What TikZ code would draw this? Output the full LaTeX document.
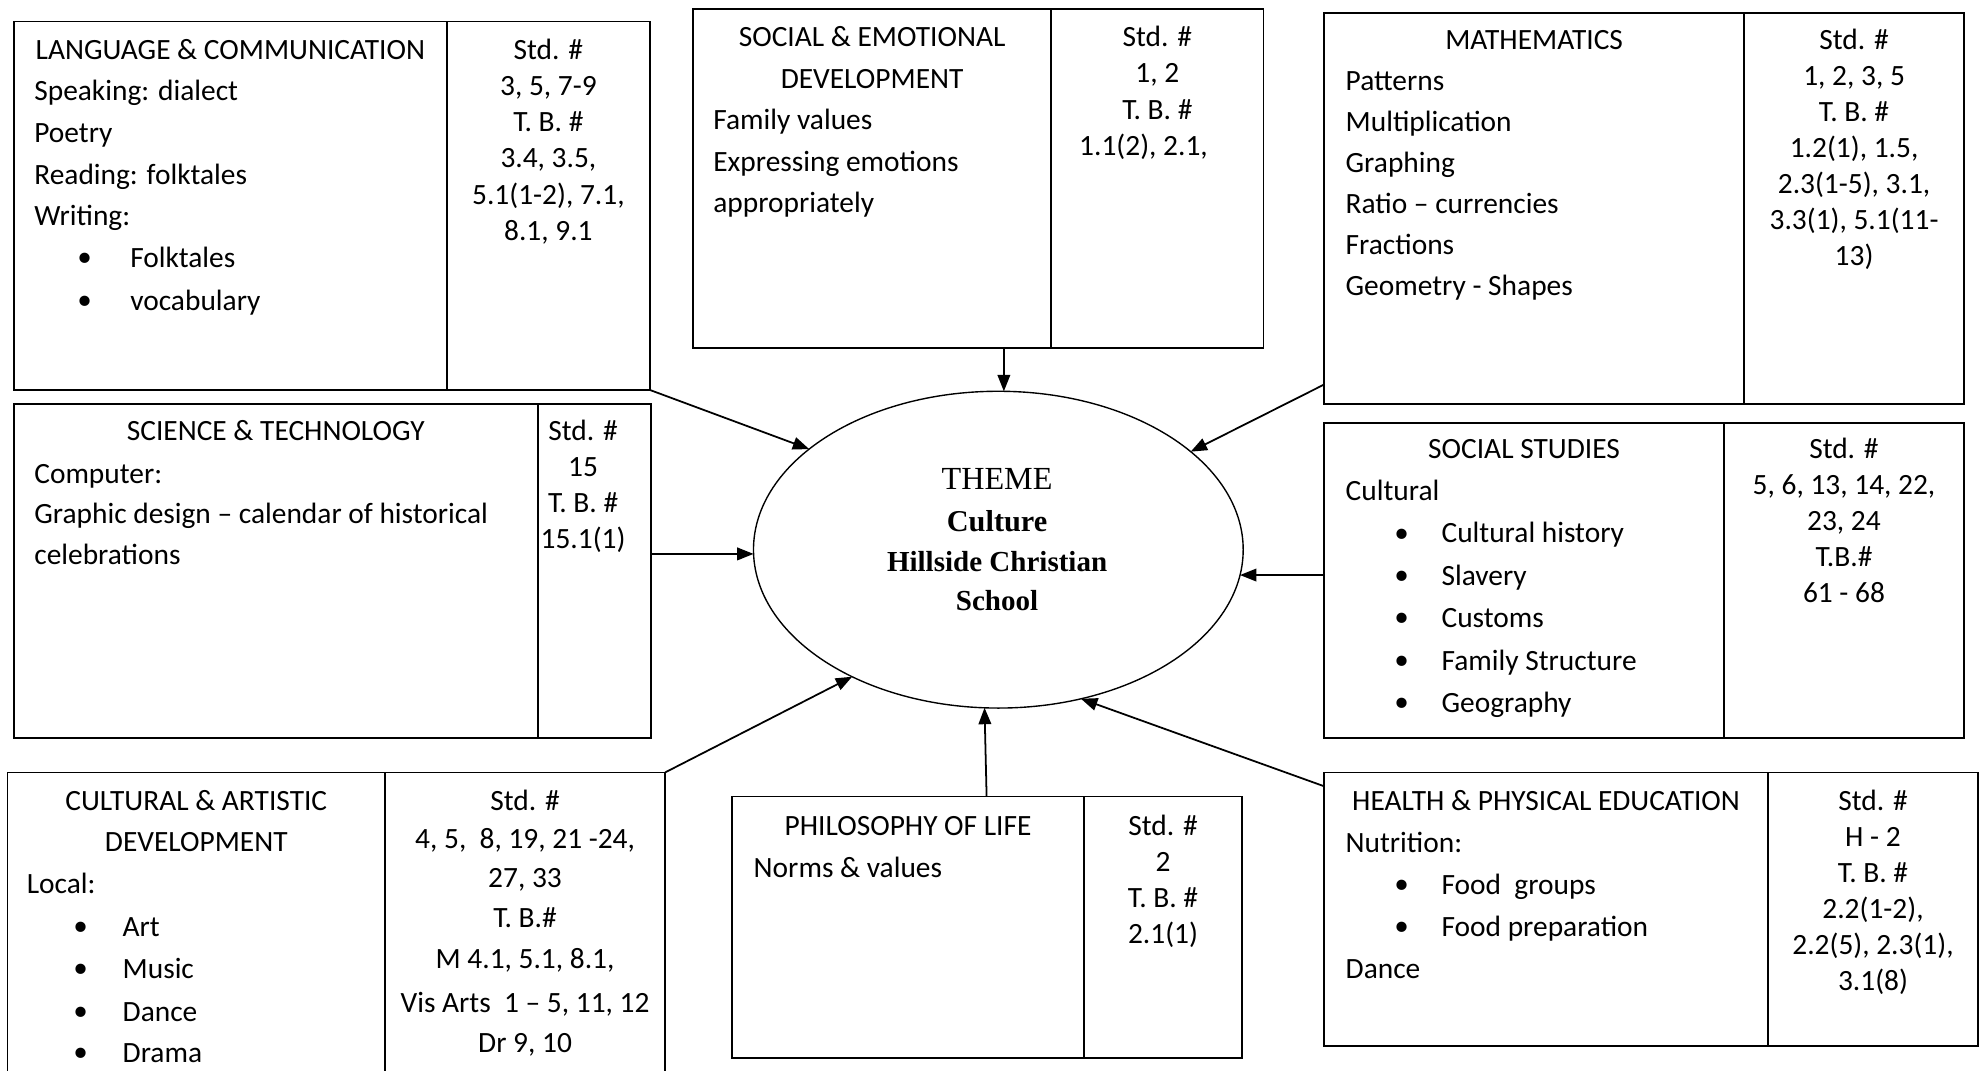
\documentclass[tikz,border=0pt]{standalone}
\usepackage{fontspec}
\setmainfont{Carlito}
\newfontfamily\timesfont{Liberation Serif}
\usetikzlibrary{shapes.geometric,arrows.meta}
\tikzset{
  boxpart/.style={draw, line width=1.4bp, inner sep=0pt, outer sep=0pt, anchor=north west},
  tl/.style={anchor=base west, inner sep=0pt, font=\fontsize{23.3bp}{28bp}\selectfont},
  tc/.style={anchor=base, inner sep=0pt, font=\fontsize{23.3bp}{28bp}\selectfont},
  bdot/.style={anchor=base, inner sep=0pt, text depth=0pt, font=\timesfont\fontsize{34bp}{34bp}\selectfont},
  themetxt/.style={anchor=base, inner sep=0pt, font=\timesfont\fontsize{25.5bp}{26bp}\selectfont},
  themebold/.style={anchor=base, inner sep=0pt, font=\timesfont\bfseries\fontsize{23bp}{23bp}\selectfont},
  arr/.style={line width=1.4bp, -{Triangle[length=13bp,width=10bp]}},
}
% a subject box: left part (topics) and right part (standards)
% #1 name, #2 left x, #3 divider x, #4 right x, #5 top y, #6 bottom y
\newcommand\twobox[6]{%
  \node[boxpart, minimum width={#3bp-#2bp}, minimum height={#6bp-#5bp}] (#1l) at (#2,#5) {};
  \node[boxpart, minimum width={#4bp-#3bp}, minimum height={#6bp-#5bp}] (#1r) at (#3,#5) {};
}
% bulleted line: #1 name, #2 dot x, #3 text x, #4 baseline y, #5 text
\newcommand\bulitem[5]{%
  \node[bdot] (#1d) at (#2,{#4+4}) {•};
  \node[tl, text depth=0pt] (#1) at (#3,#4) {#5};
}
\begin{document}
\begin{tikzpicture}[x=1bp,y=-1bp]
\clip (0,0) rectangle (1568,848);

% ---- boxes
\twobox{lc}{11}{354}{515}{17}{309}
\twobox{se}{549}{833}{1001}{7}{276}
\twobox{ma}{1049}{1382}{1556}{10}{320}
\twobox{st}{11}{426}{516}{320}{585}
\twobox{ss}{1049}{1366}{1556}{335}{585}
\twobox{ca}{6}{305}{527}{612}{870}
\twobox{pl}{580}{859}{984}{631}{838}
\twobox{hp}{1049}{1401}{1567}{612}{829}

% ---- central theme
\node[draw, ellipse, line width=1.1bp, minimum width=388bp, minimum height=251bp,
      inner sep=0pt, outer sep=0pt] (theme) at (791,435.5) {};
\node[themetxt] (thm1) at (790,388) {THEME};
\node[themebold, font=\timesfont\bfseries\fontsize{24bp}{24bp}\selectfont] (thm2) at (790,421) {Culture};
\node[themebold] (thm3) at (790,453) {Hillside Christian};
\node[themebold] (thm4) at (790,484) {School};

% ---- Language & communication
\node[tc] (lct) at (182.5,47) {LANGUAGE \& COMMUNICATION};
\node[tl] (lc1) at (27,80) {Speaking: dialect};
\node[tl] (lc2) at (27,113) {Poetry};
\node[tl] (lc3) at (27,146) {Reading: folktales};
\node[tl] (lc4) at (27,179) {Writing:};
\bulitem{lc5}{67}{103}{212}{Folktales}
\bulitem{lc6}{67}{103}{246}{vocabulary}
\foreach \t [count=\i from 0] in {{Std. \#},{3, 5, 7-9},{T. B. \#},{3.4, 3.5,},{5.1(1-2), 7.1,},{8.1, 9.1}}
  \node[tc] (lcs\i) at (434.5,{47+28.7*\i}) {\t};

% ---- Social & emotional development
\node[tc] (set1) at (691,37) {SOCIAL \& EMOTIONAL};
\node[tc] (set2) at (691,70) {DEVELOPMENT};
\node[tl] (se1) at (565,103) {Family values};
\node[tl] (se2) at (565,135.5) {Expressing emotions};
\node[tl] (se3) at (565,168) {appropriately};
\foreach \t [count=\i from 0] in {{Std. \#},{1, 2},{T. B. \#}}
  \node[tc] (ses\i) at (917,{37+28.7*\i}) {\t};
\node[tc] (ses3) at (906,123) {1.1(2), 2.1,};

% ---- Mathematics
\node[tc] (mat) at (1215.5,39) {MATHEMATICS};
\foreach \t [count=\i from 0] in {Patterns,Multiplication,Graphing,{Ratio – currencies},Fractions,{Geometry - Shapes}}
  \node[tl] (ma\i) at (1066,{72+32.5*\i}) {\t};
\foreach \t [count=\i from 0] in {{Std. \#},{1, 2, 3, 5},{T. B. \#},{1.2(1), 1.5,},{2.3(1-5), 3.1,},{3.3(1), 5.1(11-},{13)}}
  \node[tc] (mas\i) at (1469,{39+28.6*\i}) {\t};

% ---- Science & technology
\node[tc] (stt) at (218.5,349) {SCIENCE \& TECHNOLOGY};
\node[tl] (st1) at (27,383) {Computer:};
\node[tl] (st2) at (27,415) {Graphic design – calendar of historical};
\node[tl] (st3) at (27,447) {celebrations};
\foreach \t [count=\i from 0] in {{Std. \#},{15},{T. B. \#},{15.1(1)}}
  \node[tc] (sts\i) at (462,{349+28.5*\i}) {\t};

% ---- Social studies
\node[tc] (sst) at (1207.5,363) {SOCIAL STUDIES};
\node[tl] (ss0) at (1066,396.6) {Cultural};
\bulitem{ss1}{1111}{1142}{430.2}{Cultural history}
\bulitem{ss2}{1111}{1142}{463.8}{Slavery}
\bulitem{ss3}{1111}{1142}{497.4}{Customs}
\bulitem{ss4}{1111}{1142}{531}{Family Structure}
\bulitem{ss5}{1111}{1142}{564.6}{Geography}
\foreach \t [count=\i from 0] in {{Std. \#},{5, 6, 13, 14, 22,},{23, 24},{T.B.\#},{61 - 68}}
  \node[tc] (sss\i) at (1461,{363+28.5*\i}) {\t};

% ---- Cultural & artistic development
\node[tc] (cat1) at (155.5,642) {CULTURAL \& ARTISTIC};
\node[tc] (cat2) at (155.5,675) {DEVELOPMENT};
\node[tl] (ca0) at (21,708) {Local:};
\bulitem{ca1}{64}{97}{742}{Art}
\bulitem{ca2}{64}{97}{775}{Music}
\bulitem{ca3}{64}{97}{809}{Dance}
\bulitem{ca4}{64}{97}{842}{Drama}
\foreach \t/\yy [count=\i from 0] in {{Std. \#}/642,{4, 5,~ 8, 19, 21 -24,}/672,{27, 33}/703,{T. B.\#}/735,{M 4.1, 5.1, 8.1,}/767,{Vis Arts~ 1 – 5, 11, 12}/802,{Dr 9, 10}/834}
  \node[tc] (cas\i) at (416,\yy) {\t};

% ---- Philosophy of life
\node[tc] (plt) at (719.5,662) {PHILOSOPHY OF LIFE};
\node[tl] (pl1) at (597,695) {Norms \& values};
\foreach \t [count=\i from 0] in {{Std. \#},{2},{T. B. \#},{2.1(1)}}
  \node[tc] (pls\i) at (921.5,{662+28.6*\i}) {\t};

% ---- Health & physical education
\node[tc] (hpt) at (1225,642) {HEALTH \& PHYSICAL EDUCATION};
\node[tl] (hp0) at (1066,675.3) {Nutrition:};
\bulitem{hp1}{1111}{1142}{708.6}{Food~ groups}
\bulitem{hp2}{1111}{1142}{742}{Food preparation}
\node[tl] (hp3) at (1066,775.3) {Dance};
\foreach \t [count=\i from 0] in {{Std. \#},{H - 2},{T. B. \#},{2.2(1-2),},{2.2(5), 2.3(1),},{3.1(8)}}
  \node[tc] (hps\i) at (1484,{642+28.5*\i}) {\t};

% ---- connectors into the theme
\draw[arr] (lcr.south east) -- (theme.152.7);
\draw[arr] (theme.88 |- sel.south) -- (theme.88);
\draw[arr] (mal.220.1) -- (theme.27.9);
\draw[arr] (theme.181.6 -| str.east) -- (theme.181.6);
\draw[arr] (theme.354.5 -| ssl.west) -- (theme.354.5);
\draw[arr] (car.north east) -- (theme.221.8);
\draw[arr] (pll.59.7) -- (theme.265.9);
\draw[arr] (hpl.151.5) -- (theme.299.9);
\end{tikzpicture}
\end{document}
